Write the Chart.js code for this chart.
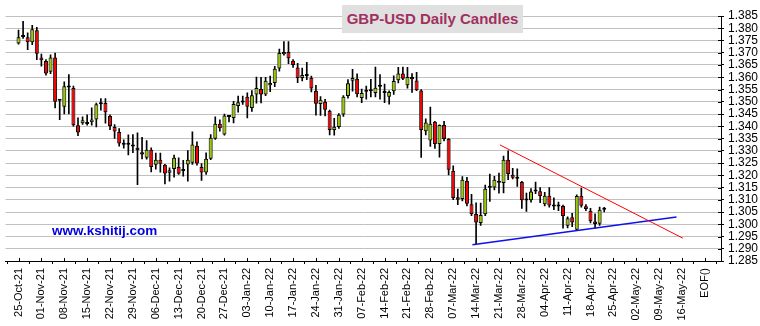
<!DOCTYPE html>
<html>
<head>
<meta charset="utf-8">
<title>GBP-USD Daily Candles</title>
<script src="https://cdn.jsdelivr.net/npm/chart.js@4.4.1/dist/chart.umd.min.js"></script>
<style>
  body { margin: 0; background: #fff; }
  #wrap { position: relative; width: 760px; height: 326px; }
  #title {
    position: absolute; left: 342px; top: 5px; width: 181px; height: 28px;
    background: #e0e0e0; color: #a0305f;
    font: bold 15px Arial, "Liberation Sans", sans-serif;
    line-height: 28px; text-align: center;
  }
  #site {
    position: absolute; left: 52px; top: 223px; color: #0000e0;
    font: bold 13.5px Arial, "Liberation Sans", sans-serif;
  }
</style>
</head>
<body>
<div id="wrap">
  <canvas id="chart" width="760" height="326"></canvas>
  <div id="title">GBP-USD Daily Candles</div>
  <div id="site">www.kshitij.com</div>
</div>
<script>
// daily GBP-USD candles, one per weekday starting Mon 25-Oct-21
const opens = [
  1.3738, 1.3764, 1.3763, 1.3743, 1.3792, 1.3681, 1.3666, 1.3622, 1.3681, 1.3504,
  1.3480, 1.3558, 1.3556, 1.3404, 1.3412, 1.3409, 1.3416, 1.3428, 1.3490, 1.3495,
  1.3442, 1.3397, 1.3377, 1.3330, 1.3324, 1.3321, 1.3312, 1.3294, 1.3271, 1.3304,
  1.3243, 1.3263, 1.3243, 1.3210, 1.3226, 1.3234, 1.3217, 1.3244, 1.3251, 1.3320,
  1.3234, 1.3211, 1.3267, 1.3349, 1.3410, 1.3366, 1.3438, 1.3434, 1.3483, 1.3497,
  1.3520, 1.3475, 1.3530, 1.3552, 1.3530, 1.3567, 1.3577, 1.3636, 1.3694, 1.3703,
  1.3667, 1.3640, 1.3597, 1.3605, 1.3598, 1.3545, 1.3491, 1.3500, 1.3463, 1.3385,
  1.3397, 1.3448, 1.3523, 1.3586, 1.3594, 1.3515, 1.3541, 1.3543, 1.3536, 1.3561,
  1.3543, 1.3520, 1.3543, 1.3588, 1.3615, 1.3567, 1.3601, 1.3587, 1.3546, 1.3380,
  1.3342, 1.3418, 1.3328, 1.3405, 1.3348, 1.3218, 1.3110, 1.3103, 1.3177, 1.3082,
  1.3042, 1.3005, 1.3041, 1.3149, 1.3150, 1.3169, 1.3168, 1.3263, 1.3202, 1.3186,
  1.3172, 1.3097, 1.3098, 1.3134, 1.3135, 1.3082, 1.3116, 1.3072, 1.3072, 1.3074,
  1.2994, 1.3029, 1.2978, 1.3116, 1.3073, 1.3055, 1.3011, 1.3002, 1.3059
];
const highs = [
  1.3793, 1.3828, 1.3781, 1.3812, 1.3804, 1.3695, 1.3672, 1.3692, 1.3699, 1.3508,
  1.3581, 1.3611, 1.3564, 1.3434, 1.3438, 1.3447, 1.3475, 1.3495, 1.3513, 1.3513,
  1.3447, 1.3407, 1.3390, 1.3345, 1.3365, 1.3366, 1.3373, 1.3355, 1.3342, 1.3312,
  1.3290, 1.3291, 1.3245, 1.3230, 1.3282, 1.3271, 1.3261, 1.3301, 1.3377, 1.3336,
  1.3248, 1.3292, 1.3366, 1.3438, 1.3426, 1.3450, 1.3445, 1.3502, 1.3523, 1.3523,
  1.3536, 1.3546, 1.3601, 1.3600, 1.3600, 1.3605, 1.3645, 1.3715, 1.3746, 1.3746,
  1.3672, 1.3657, 1.3637, 1.3661, 1.3605, 1.3567, 1.3521, 1.3510, 1.3466, 1.3432,
  1.3452, 1.3525, 1.3590, 1.3632, 1.3614, 1.3552, 1.3564, 1.3592, 1.3642, 1.3611,
  1.3572, 1.3545, 1.3606, 1.3640, 1.3642, 1.3640, 1.3615, 1.3620, 1.3550, 1.3430,
  1.3478, 1.3420, 1.3406, 1.3420, 1.3350, 1.3238, 1.3144, 1.3195, 1.3192, 1.3122,
  1.3087, 1.3086, 1.3160, 1.3205, 1.3196, 1.3209, 1.3278, 1.3300, 1.3228, 1.3226,
  1.3175, 1.3127, 1.3146, 1.3172, 1.3150, 1.3130, 1.3150, 1.3108, 1.3090, 1.3078,
  1.3030, 1.3045, 1.3120, 1.3148, 1.3080, 1.3065, 1.3043, 1.3070, 1.3069
];
const lows = [
  1.3735, 1.3758, 1.3713, 1.3733, 1.3672, 1.3645, 1.3608, 1.3615, 1.3475, 1.3427,
  1.3450, 1.3450, 1.3400, 1.3362, 1.3407, 1.3404, 1.3404, 1.3397, 1.3466, 1.3413,
  1.3386, 1.3350, 1.3319, 1.3311, 1.3283, 1.3292, 1.3162, 1.3267, 1.3266, 1.3214,
  1.3225, 1.3213, 1.3165, 1.3176, 1.3192, 1.3203, 1.3196, 1.3176, 1.3244, 1.3241,
  1.3179, 1.3203, 1.3264, 1.3346, 1.3380, 1.3364, 1.3418, 1.3414, 1.3457, 1.3489,
  1.3434, 1.3461, 1.3494, 1.3495, 1.3525, 1.3541, 1.3562, 1.3625, 1.3690, 1.3655,
  1.3640, 1.3578, 1.3585, 1.3590, 1.3540, 1.3445, 1.3444, 1.3442, 1.3365, 1.3364,
  1.3391, 1.3440, 1.3515, 1.3543, 1.3520, 1.3496, 1.3511, 1.3520, 1.3520, 1.3511,
  1.3496, 1.3490, 1.3530, 1.3577, 1.3590, 1.3555, 1.3538, 1.3545, 1.3273, 1.3365,
  1.3318, 1.3310, 1.3274, 1.3340, 1.3201, 1.3100, 1.3080, 1.3095, 1.3075, 1.3035,
  1.2917, 1.2995, 1.3035, 1.3093, 1.3140, 1.3127, 1.3128, 1.3182, 1.3185, 1.3154,
  1.3065, 1.3052, 1.3090, 1.3125, 1.3088, 1.3075, 1.3070, 1.3060, 1.3055, 1.2984,
  1.2985, 1.2990, 1.2975, 1.3070, 1.3055, 1.3005, 1.2984, 1.2995, 1.3050
];
const closes = [
  1.3763, 1.3766, 1.3743, 1.3796, 1.3696, 1.3669, 1.3615, 1.3681, 1.3500, 1.3506,
  1.3563, 1.3560, 1.3404, 1.3375, 1.3424, 1.3410, 1.3428, 1.3490, 1.3498, 1.3457,
  1.3401, 1.3379, 1.3330, 1.3325, 1.3332, 1.3317, 1.3302, 1.3285, 1.3304, 1.3234,
  1.3263, 1.3247, 1.3207, 1.3220, 1.3271, 1.3206, 1.3218, 1.3263, 1.3326, 1.3248,
  1.3211, 1.3267, 1.3353, 1.3410, 1.3392, 1.3444, 1.3440, 1.3491, 1.3498, 1.3499,
  1.3480, 1.3527, 1.3556, 1.3530, 1.3586, 1.3577, 1.3635, 1.3699, 1.3703, 1.3678,
  1.3650, 1.3597, 1.3609, 1.3606, 1.3554, 1.3492, 1.3508, 1.3467, 1.3385, 1.3398,
  1.3447, 1.3520, 1.3576, 1.3597, 1.3531, 1.3536, 1.3542, 1.3544, 1.3557, 1.3562,
  1.3536, 1.3540, 1.3585, 1.3615, 1.3594, 1.3601, 1.3592, 1.3547, 1.3385, 1.3415,
  1.3410, 1.3328, 1.3405, 1.3348, 1.3222, 1.3107, 1.3100, 1.3182, 1.3084, 1.3042,
  1.3007, 1.3038, 1.3145, 1.3150, 1.3182, 1.3172, 1.3263, 1.3205, 1.3190, 1.3187,
  1.3098, 1.3098, 1.3134, 1.3135, 1.3115, 1.3116, 1.3077, 1.3073, 1.3073, 1.3034,
  1.3025, 1.3007, 1.3115, 1.3076, 1.3062, 1.3012, 1.3001, 1.3059, 1.3061
];

// trendlines: x in trading-day index, y in price
const resistX = [105.2, 145.2];
const resistY = [1.3324, 1.2943];
const supportX = [99.2, 143.8];
const supportY = [1.2916, 1.3030];

// weekly axis labels (every 5 trading days)
const weekLabels = [
  '25-Oct-21', '01-Nov-21', '08-Nov-21', '15-Nov-21', '22-Nov-21', '29-Nov-21',
  '06-Dec-21', '13-Dec-21', '20-Dec-21', '27-Dec-21', '03-Jan-22', '10-Jan-22',
  '17-Jan-22', '24-Jan-22', '31-Jan-22', '07-Feb-22', '14-Feb-22', '21-Feb-22',
  '28-Feb-22', '07-Mar-22', '14-Mar-22', '21-Mar-22', '28-Mar-22', '04-Apr-22',
  '11-Apr-22', '18-Apr-22', '25-Apr-22', '02-May-22', '09-May-22', '16-May-22',
  'EOF()'
];
const priceTicks = [
  1.285, 1.290, 1.295, 1.300, 1.305, 1.310, 1.315, 1.320, 1.325, 1.330, 1.335,
  1.340, 1.345, 1.350, 1.355, 1.360, 1.365, 1.370, 1.375, 1.380, 1.385
];

const UP = '#99cc00';
const DOWN = '#ff0000';
const FONT = 'Arial, "Liberation Sans", sans-serif';

// short black tick marks on the inside of both axes
const innerTicks = {
  id: 'innerTicks',
  afterDraw(chart) {
    const { ctx, scales: { x, y } } = chart;
    ctx.save();
    ctx.strokeStyle = '#000';
    ctx.lineWidth = 1;
    ctx.beginPath();
    y.ticks.forEach(t => {
      const py = Math.round(y.getPixelForValue(t.value)) + 0.5;
      ctx.moveTo(y.left - 3, py);
      ctx.lineTo(y.left, py);
    });
    x.ticks.forEach(t => {
      const px = Math.round(x.getPixelForValue(t.value)) + 0.5;
      ctx.moveTo(px, x.top - 3);
      ctx.lineTo(px, x.top);
    });
    ctx.stroke();
    ctx.restore();
  }
};

new Chart(document.getElementById('chart'), {
  type: 'bar',
  data: {
    datasets: [
      {
        label: 'body',
        data: opens.map((o, i) => ({ x: i, y: [o, closes[i]] })),
        backgroundColor: opens.map((o, i) => closes[i] >= o ? UP : DOWN),
        borderColor: '#000',
        borderWidth: 1,
        borderSkipped: false,
        inflateAmount: 0,
        barThickness: 4,
        minBarLength: 2,
        grouped: false,
        clip: 4,
        order: 1
      },
      {
        label: 'wick',
        data: lows.map((l, i) => ({ x: i, y: [l, highs[i]] })),
        backgroundColor: '#000',
        barThickness: 1,
        grouped: false,
        clip: 4,
        order: 2
      },
      {
        type: 'line',
        label: 'resistance',
        data: resistX.map((x, k) => ({ x: x, y: resistY[k] })),
        borderColor: '#ff0000',
        borderWidth: 1,
        pointRadius: 0,
        order: 0
      },
      {
        type: 'line',
        label: 'support',
        data: supportX.map((x, k) => ({ x: x, y: supportY[k] })),
        borderColor: '#1010ee',
        borderWidth: 1.5,
        pointRadius: 0,
        order: 0
      }
    ]
  },
  options: {
    responsive: false,
    animation: false,
    layout: { padding: { left: 5.6, top: 16, right: 0, bottom: 0 } },
    plugins: { legend: { display: false }, tooltip: { enabled: false } },
    scales: {
      x: {
        type: 'linear',
        min: -0.3,
        max: 151,
        afterBuildTicks: axis => {
          axis.ticks = weekLabels.map((l, k) => ({ value: k * 5 }));
        },
        afterFit: axis => {
          axis.height = 65;
          axis.paddingLeft = 0;
          axis.paddingRight = 0;
        },
        ticks: {
          autoSkip: false,
          maxRotation: 90,
          minRotation: 90,
          padding: 4,
          color: '#000',
          font: { family: FONT, size: 11 },
          callback: v => weekLabels[Math.round(v / 5)]
        },
        grid: {
          drawOnChartArea: false,
          tickLength: 3,
          tickColor: '#000'
        },
        border: { color: '#000', width: 1 }
      },
      y: {
        position: 'right',
        min: 1.285,
        max: 1.385,
        afterBuildTicks: axis => {
          axis.ticks = priceTicks.map(v => ({ value: v }));
        },
        afterFit: axis => { axis.width = 39; },
        ticks: {
          autoSkip: false,
          padding: 4,
          color: '#000',
          font: { family: FONT, size: 12 },
          callback: v => v.toFixed(3)
        },
        grid: {
          color: '#c0c0c0',
          tickLength: 3,
          tickColor: '#000'
        },
        border: { color: '#000', width: 1 }
      }
    }
  },
  plugins: [innerTicks]
});
</script>
</body>
</html>
